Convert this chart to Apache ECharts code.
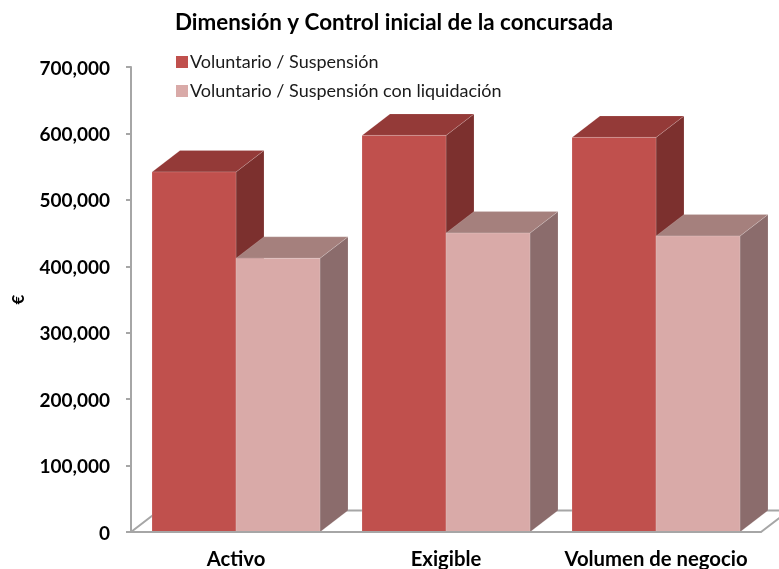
<!DOCTYPE html>
<html><head><meta charset="utf-8">
<style>html,body{margin:0;padding:0;background:#fff}#c{width:779px;height:569px}</style>
<script src="https://cdn.jsdelivr.net/npm/echarts@6/dist/echarts.min.js"></script>
</head><body><div id="c"></div>
<script>
const categories = ['Activo', 'Exigible', 'Volumen de negocio'];
const seriesAName = 'Voluntario / Suspensión';
const seriesBName = 'Voluntario / Suspensión con liquidación';
const seriesAValues = [542000, 597000, 594000];
const seriesBValues = [412000, 450000, 445500];
const titleText = 'Dimensión y Control inicial de la concursada';
const FONT = 'Lato, "Open Sans", sans-serif';
const DX = 28, DY = 21.5, BAR = 0.4;

function barRender(side, front, top, right) {
  return function (params, api) {
    const v = api.value(1), c = api.coord([api.value(0), v]), b = api.coord([api.value(0), 0]);
    const w = api.size([1, 0])[0] * BAR;
    const x0 = side < 0 ? c[0] - w : c[0], x1 = x0 + w, yT = c[1], yB = b[1];
    const edge = 'rgba(255,255,255,0.15)';
    return { type: 'group', children: [
      { type: 'polygon', shape: { points: [[x1, yB], [x1 + DX, yB - DY], [x1 + DX, yT - DY], [x1, yT]] }, style: { fill: right, stroke: edge, lineWidth: 1 } },
      { type: 'polygon', shape: { points: [[x0, yT], [x0 + DX, yT - DY], [x1 + DX, yT - DY], [x1, yT]] }, style: { fill: top, stroke: edge, lineWidth: 1 } },
      { type: 'rect', shape: { x: x0, y: yT, width: w, height: yB - yT }, style: { fill: front, stroke: edge, lineWidth: 1 } }
    ]};
  };
}
function floorRender(params, api) {
  const cw = api.size([1, 0])[0];
  const l = api.coord([0, 0]), r = api.coord([categories.length - 1, 0]);
  const x0 = l[0] - cw / 2, x1 = r[0] + cw / 2, y = l[1];
  return { type: 'polyline', shape: { points: [[x0, y], [x0 + DX, y - DY], [x1 + DX, y - DY], [x1, y]] }, style: { fill: 'none', stroke: '#a6a6a6', lineWidth: 2 } };
}
const chart = echarts.init(document.getElementById('c'), null, { renderer: 'canvas' });
chart.setOption({
  animation: false,
  backgroundColor: '#fff',
  title: { text: titleText, left: 170, top: 7, textStyle: { fontFamily: FONT, fontSize: 22.4, fontWeight: 'bold', color: '#000' } },
  legend: { data: [seriesAName, seriesBName], orient: 'vertical', left: 171, top: 48, itemWidth: 12, itemHeight: 12, itemGap: 11, icon: 'rect', textStyle: { fontFamily: FONT, fontSize: 18, color: '#1a1a1a', padding: [0, 0, 0, -3] } },
  grid: { left: 131, right: 18, top: 67, bottom: 37, outerBoundsMode: 'none' },
  xAxis: { type: 'category', data: categories, z: 10,
    axisLine: { lineStyle: { color: '#a6a6a6', width: 2 } }, axisTick: { show: false },
    axisLabel: { margin: 17, fontFamily: FONT, fontSize: 20.3, fontWeight: 'bold', color: '#000', interval: 0 } },
  yAxis: { type: 'value', min: 0, max: 700000, interval: 100000, name: '€', nameLocation: 'middle', nameRotate: 90, nameGap: 104,
    nameTextStyle: { fontFamily: FONT, fontSize: 17, fontWeight: 'bold', color: '#000' },
    splitLine: { show: false },
    axisLine: { show: true, lineStyle: { color: '#a6a6a6', width: 2 } },
    axisTick: { show: true, length: 5, lineStyle: { color: '#a6a6a6', width: 2 } },
    axisLabel: { margin: 21, fontFamily: FONT, fontSize: 19, fontWeight: 'bold', color: '#000', verticalAlign: 'top', padding: [-8, 0, 0, 0],
      formatter: v => v.toLocaleString('en-US') } },
  series: [
    { type: 'custom', name: 'Suelo', silent: true, clip: false, data: [[0, 0]], encode: { x: 0, y: 1 }, renderItem: floorRender, z: 1 },
    { type: 'custom', name: seriesAName, clip: false, itemStyle: { color: '#C0504D' }, encode: { x: 0, y: 1 }, z: 2,
      data: categories.map((c, i) => [i, seriesAValues[i]]), renderItem: barRender(-1, '#C0504D', '#943A38', '#7C302E') },
    { type: 'custom', name: seriesBName, clip: false, itemStyle: { color: '#D9AAA8' }, encode: { x: 0, y: 1 }, z: 3,
      data: categories.map((c, i) => [i, seriesBValues[i]]), renderItem: barRender(1, '#D9AAA8', '#A5807D', '#8B6C6C') }
  ]
});
</script></body></html>
